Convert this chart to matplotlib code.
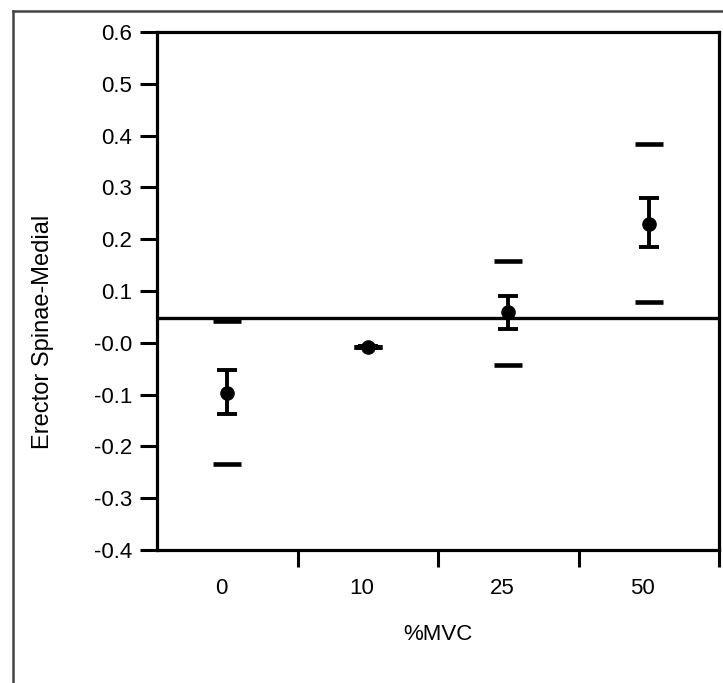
import matplotlib
matplotlib.use("Agg")
import matplotlib.pyplot as plt
from matplotlib.lines import Line2D
import matplotlib.transforms as mtransforms

plt.rcParams['font.family'] = ['Liberation Sans', 'DejaVu Sans']

categories = ["0", "10", "25", "50"]
means = [-0.097, -0.008, 0.059, 0.229]
err_low = [-0.137, -0.010, 0.027, 0.185]
err_high = [-0.053, -0.006, 0.090, 0.280]
outer_low = [-0.234, -0.008, -0.043, 0.079]
outer_high = [0.042, -0.008, 0.158, 0.384]
ref_line = 0.047
yticks = [0.6, 0.5, 0.4, 0.3, 0.2, 0.1, 0.0, -0.1, -0.2, -0.3, -0.4]
yticklabels = ["0.6", "0.5", "0.4", "0.3", "0.2", "0.1", "-0.0", "-0.1", "-0.2", "-0.3", "-0.4"]

W, H = 723, 683
fig = plt.figure(figsize=(W / 100, H / 100), dpi=100)
ax = fig.add_axes([157 / W, 1 - 550 / H, (719 - 157) / W, (550 - 32) / H])

x = [i + 0.5 for i in range(len(categories))]
yerr = [[m - lo for m, lo in zip(means, err_low)], [hi - m for m, hi in zip(means, err_high)]]

ax.axhline(ref_line, color='black', lw=2.4, zorder=1)
ax.errorbar(x, means, yerr=yerr, fmt='o', color='black', ms=9.5, elinewidth=2.8,
            capsize=7.5, capthick=2.8, zorder=3)
ax.plot(x, outer_low, '_', color='black', ms=20, mew=3.3, zorder=2)
ax.plot(x, outer_high, '_', color='black', ms=20, mew=3.3, zorder=2)

ax.set_xlim(0, 4)
ax.set_ylim(-0.4, 0.6)
ax.set_yticks(yticks)
ax.set_yticklabels(yticklabels)
ax.set_xticks([1, 2, 3, 4])
ax.set_xticklabels([])
ax.set_xticks(x, minor=True)
ax.set_xticklabels(categories, minor=True)
ax.tick_params(axis='x', which='minor', length=0, pad=20, labelsize=16)
ax.tick_params(axis='x', which='major', length=12, width=2.2, direction='out')
ax.tick_params(axis='y', length=12, width=2.2, direction='out', pad=6, labelsize=16)
offset = mtransforms.ScaledTranslation(-6 / 100, 0, fig.dpi_scale_trans)
for lab in ax.xaxis.get_minorticklabels():
    lab.set_transform(lab.get_transform() + offset)

for s in ax.spines.values():
    s.set_linewidth(2.3)

ax.set_xlabel("%MVC", fontsize=16, labelpad=18)
fig.text(43 / W, 1 - 332 / H, "Erector Spinae-Medial", rotation=90,
         ha='center', va='center', fontsize=17)

# scanned page border
fig.add_artist(Line2D([13 / W, 13 / W], [0, 1 - 11 / H], transform=fig.transFigure,
                      color='#444444', lw=1.8))
fig.add_artist(Line2D([13 / W, 1], [1 - 11 / H, 1 - 11 / H], transform=fig.transFigure,
                      color='#444444', lw=1.8))

fig.savefig("out.png", dpi=100)
